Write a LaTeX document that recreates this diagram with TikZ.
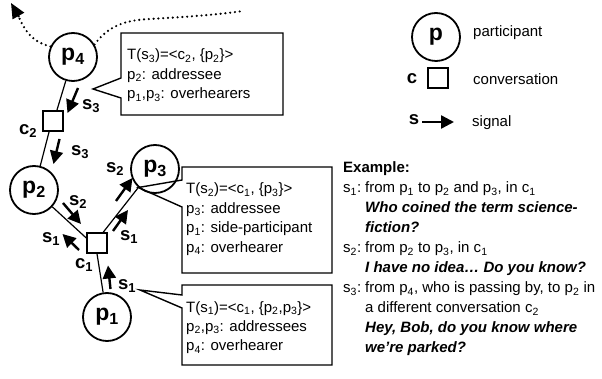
\documentclass[tikz,border=0pt]{standalone}
\usepackage{fontspec}
\setmainfont{Liberation Sans}
\usetikzlibrary{arrows.meta,calc}
\newcommand\mysub[1]{\textsubscript{#1}}
\begin{document}
\begin{tikzpicture}[x=1pt,y=-1pt,
  part/.style={circle,draw,line width=1.8pt,minimum size=48pt,inner sep=0pt,
    font=\bfseries\fontsize{23}{23}\selectfont},
  conv/.style={rectangle,draw,line width=1.5pt,minimum size=20pt,inner sep=0pt},
  link/.style={line width=1.2pt},
  sig/.style={line width=2.4pt,-{Triangle[length=13pt,width=13pt]}},
  slab/.style={font=\bfseries\fontsize{18.5}{18.5}\selectfont,inner sep=0pt},
  boxline/.style={line width=1.4pt,line join=miter},
  boxtext/.style={anchor=base west,inner sep=0pt,font=\fontsize{15}{19.5}\selectfont},
  dots/.style={line width=2.4pt,line cap=round,dash pattern=on 0pt off 4.8pt},
  legtext/.style={anchor=base west,inner sep=0pt,font=\fontsize{15}{18}\selectfont}
]
\useasboundingbox (0,0) rectangle (602,379);

% participants and conversations
\node[part] (p4) at (73,57) {p\mysub{4}};
\node[part] (p2) at (34,190) {p\mysub{2}};
\node[part] (p3) at (155,169) {p\mysub{3}};
\node[part] (p1) at (107,317) {p\mysub{1}};
\node[conv] (c2) at (53,121) {};
\node[conv] (c1) at (97,243) {};

% links
\draw[link] (p4) -- (c2.70);
\draw[link] (c2.250) -- (p2);
\draw[link] (p2) -- (c1.155);
\draw[link] (c1.60) -- (p3.228);
\draw[link] (c1.south) -- (p1);

% labels of conversations
\node[slab] (lc2) at (28,131) {c\mysub{2}};
\node[slab] (lc1) at (84,265) {c\mysub{1}};

% signal arrows
\coordinate (a3s) at (78,88);   \coordinate (a3e) at (67.5,113);
\coordinate (b3s) at (59.5,139); \coordinate (b3e) at (53.5,164);
\coordinate (a2s) at (63,203);  \coordinate (a2e) at (81,224);
\coordinate (a1s) at (79,250);  \coordinate (a1e) at (62.5,234);
\coordinate (r1s) at (113,231); \coordinate (r1e) at (128,210);
\coordinate (r2s) at (116,201); \coordinate (r2e) at (132.5,178);
\coordinate (d1s) at (110.5,289); \coordinate (d1e) at (108,265.5);
\draw[sig] (a3s) -- (a3e);
\draw[sig] (b3s) -- (b3e);
\draw[sig] (a2s) -- (a2e);
\draw[sig] (a1s) -- (a1e);
\draw[sig] (r1s) -- (r1e);
\draw[sig] (r2s) -- (r2e);
\draw[sig] (d1s) -- (d1e);

\node[slab] (ls3a) at (91,106) {s\mysub{3}};
\node[slab] (ls3b) at (80,152) {s\mysub{3}};
\node[slab] (ls2a) at (78,202) {s\mysub{2}};
\node[slab] (ls1a) at (51,239) {s\mysub{1}};
\node[slab] (ls1b) at (129,237) {s\mysub{1}};
\node[slab] (ls2b) at (115,169) {s\mysub{2}};
\node[slab] (ls1c) at (127,286) {s\mysub{1}};

% dotted paths
\draw[dots] (p4.30) .. controls (108,26) and (125,20) .. (150,19)
  .. controls (185,17) and (215,15) .. (243,11);
\draw[dots] (p4.155) .. controls (32,42) and (24,30) .. (18,15);
\coordinate (dtip) at (11,3);
\draw[line width=2pt,-{Triangle[length=15pt,width=13pt]}] (19,17) -- (dtip);

% callout boxes
\coordinate (t3) at (93,89);
\coordinate (t2) at (p3.228);
\coordinate (t1) at (140,290);
\draw[boxline] (121,33) -- (283,33) -- (283,115) -- (121,115) -- (121,98) -- (t3) -- (121,78) -- cycle;
\draw[boxline] (182,167) -- (332,167) -- (332,273) -- (182,273) -- (182,207) -- (t2) -- (182,180) -- cycle;
\draw[boxline] (182,285) -- (332,285) -- (332,365) -- (182,365) -- (182,308) -- (t1) -- (182,295) -- cycle;

\node[boxtext] (b3) at (127,60) {\begin{tabular}[t]{@{}l@{}}
T(s\mysub{3})=<c\mysub{2}, \{p\mysub{2}\}>\\
p\mysub{2}: addressee\\
p\mysub{1},p\mysub{3}: overhearers
\end{tabular}};
\node[boxtext] (b2) at (186,194) {\begin{tabular}[t]{@{}l@{}}
T(s\mysub{2})=<c\mysub{1}, \{p\mysub{3}\}>\\
p\mysub{3}: addressee\\
p\mysub{1}: side-participant\\
p\mysub{4}: overhearer
\end{tabular}};
\node[boxtext] (b1) at (186,312) {\begin{tabular}[t]{@{}l@{}}
T(s\mysub{1})=<c\mysub{1}, \{p\mysub{2},p\mysub{3}\}>\\
p\mysub{2},p\mysub{3}: addressees\\
p\mysub{4}: overhearer
\end{tabular}};

% legend
\node[part] (lp) at (436,37) {p};
\node[legtext] (lpt) at (473,37) {participant};
\node[slab] (lcc) at (412,79) {c};
\node[conv] (lcs) at (438,78) {};
\node[legtext] (lct) at (473,85) {conversation};
\node[slab] (lss) at (414,120) {s};
\coordinate (las) at (422,122);
\coordinate (lae) at (454,122);
\draw[sig] (las) -- (lae);
\node[legtext] (lst) at (472,127) {signal};

% example
\node[anchor=base west,inner sep=0pt,font=\fontsize{15}{20}\selectfont] (ex) at (343,173)
{\begin{tabular}[t]{@{}l@{}}
\textbf{Example:}\\
\makebox[22pt][l]{s\mysub{1}:}from p\mysub{1} to p\mysub{2} and p\mysub{3}, in c\mysub{1}\\
\hspace*{22pt}\textbf{\textit{Who coined the term science-}}\\
\hspace*{22pt}\textbf{\textit{fiction?}}\\
\makebox[22pt][l]{s\mysub{2}:}from p\mysub{2} to p\mysub{3}, in c\mysub{1}\\
\hspace*{22pt}\textbf{\textit{I have no idea… Do you know?}}\\
\makebox[22pt][l]{s\mysub{3}:}from p\mysub{4}, who is passing by, to p\mysub{2} in\\
\hspace*{22pt}a different conversation c\mysub{2}\\
\hspace*{22pt}\textbf{\textit{Hey, Bob, do you know where}}\\
\hspace*{22pt}\textbf{\textit{we’re parked?}}
\end{tabular}};
\end{tikzpicture}
\end{document}
